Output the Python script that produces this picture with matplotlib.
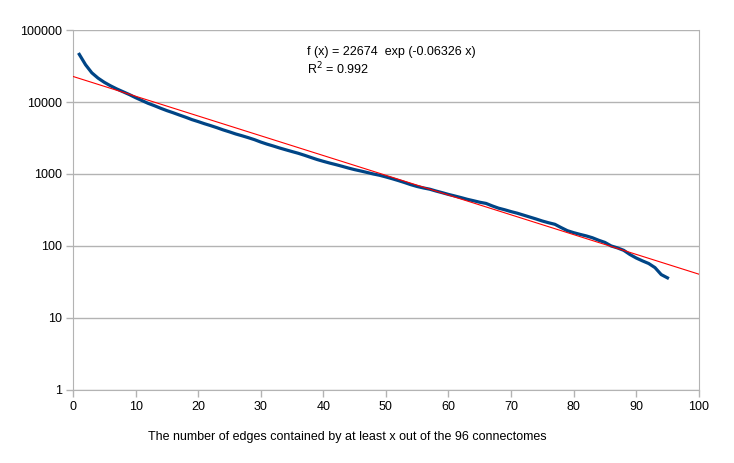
import numpy as np
import matplotlib.pyplot as plt
from matplotlib.ticker import FixedLocator, FixedFormatter

plt.rcParams['font.family'] = ['Liberation Sans', 'DejaVu Sans']

# number of connectomes x and edge counts
x = np.arange(1, 96)
edges = [46000, 33000, 25500, 21500, 18800, 16800, 15200, 13900, 12700, 11500,
         10500, 9600, 8900, 8200, 7600, 7100, 6600, 6150, 5700, 5350,
         5000, 4700, 4400, 4100, 3850, 3600, 3400, 3200, 3000, 2780,
         2600, 2450, 2300, 2170, 2050, 1940, 1820, 1700, 1590, 1500,
         1420, 1350, 1280, 1210, 1150, 1100, 1050, 1000, 960, 910,
         860, 810, 760, 710, 670, 640, 615, 580, 550, 520,
         495, 470, 445, 425, 405, 390, 360, 335, 318, 300,
         285, 268, 252, 237, 222, 210, 200, 180, 163, 153,
         145, 138, 130, 120, 112, 100, 94, 87, 76, 68,
         62, 57, 50, 40, 36]

# exponential fit shown on the chart
fit_a = 22674
fit_b = -0.06326
fit_x = np.linspace(0, 100, 201)

xticks = list(range(0, 101, 10))
yticks = [1, 10, 100, 1000, 10000, 100000]
ylabels = ['1', '10', '100', '1000', '10000', '100000']

fig = plt.figure(figsize=(7.34, 4.63), dpi=100)
ax = fig.add_axes([0.0995, 0.158, 0.8525, 0.777])

ax.plot(x, edges, color='#004586', lw=2.3, zorder=3)
ax.plot(fit_x, fit_a * np.exp(fit_b * fit_x), color='#ff0000', lw=0.8, zorder=4)

ax.set_yscale('log')
ax.set_xlim(0, 100)
ax.set_ylim(1, 100000)
ax.xaxis.set_major_locator(FixedLocator(xticks))
ax.yaxis.set_major_locator(FixedLocator(yticks))
ax.yaxis.set_major_formatter(FixedFormatter(ylabels))
ax.yaxis.set_minor_locator(FixedLocator([]))
ax.tick_params(axis='both', which='major', length=5, width=1, color='#b3b3b3',
               labelsize=9, pad=3)
ax.grid(axis='y', color='#b3b3b3', lw=1)
ax.set_axisbelow(True)
for side in ['left', 'bottom', 'right']:
    ax.spines[side].set_color('#b3b3b3')
ax.spines['top'].set_visible(False)

fig.text(307 / 734, 1 - 52 / 463, 'f (x) = 22674  exp (-0.06326 x)', fontsize=9, va='center')
fig.text(307 / 734, 1 - 69 / 463, 'R$^2$ = 0.992', fontsize=9, va='center')
fig.text(347 / 734, 1 - 437 / 463, 'The number of edges contained by at least x out of the 96 connectomes',
         fontsize=9, ha='center', va='center')

fig.savefig('out.png', dpi=100)
